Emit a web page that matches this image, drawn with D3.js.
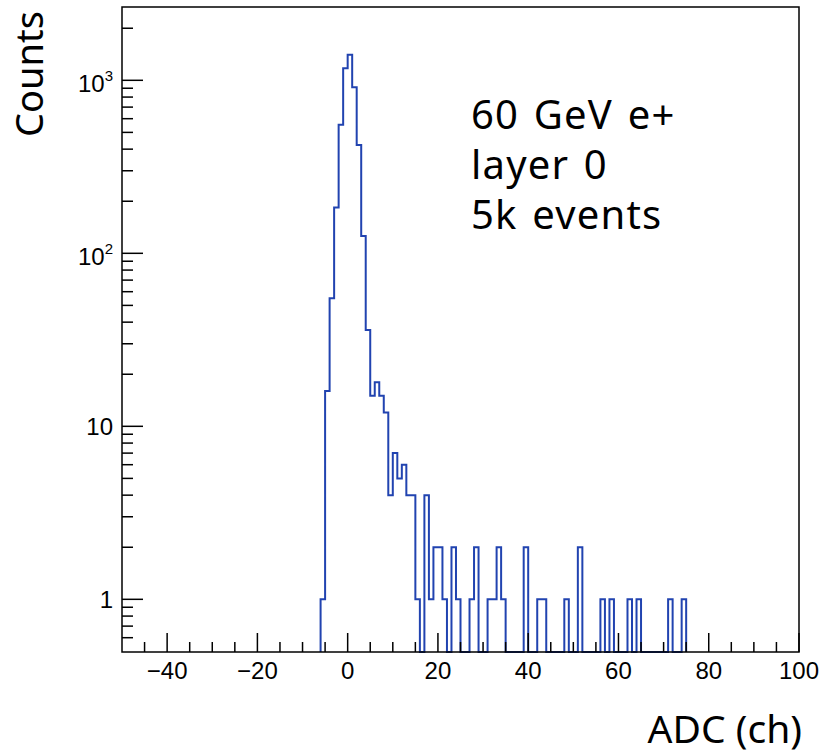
<!DOCTYPE html>
<html>
<head>
<meta charset="utf-8">
<script src="https://cdn.jsdelivr.net/npm/d3@7"></script>
<style>
  body { margin: 0; background: #fff; }
  text { fill: #000; }
</style>
</head>
<body>
<script>
const width = 825, height = 754

// histogram: 1 ADC wide bins, first bin starts at -6
const firstBin = -6
const counts = [
  1, 16, 55, 184, 554, 1173, 1406, 911, 423, 126, 36, 15, 18, 15, 12, 4, 7, 5, 6, 4, 4,   // -6 .. 14
  1, 0, 4, 1, 2, 2, 1, 0, 2, 1, 0, 0, 1, 2, 0, 0, 1, 1, 2, 1,                              // 15 .. 34
  0, 0, 0, 0, 2, 0, 0, 1, 1, 0, 0, 0, 0, 1, 0, 0, 2, 0, 0, 0,                              // 35 .. 54
  0, 1, 0, 1, 0, 0, 0, 1, 0, 1, 0, 0, 0, 0, 0, 0, 1, 0, 0, 1                               // 55 .. 74
]

const xMajor = [-40, -20, 0, 20, 40, 60, 80, 100]
const xMinor = d3.range(-45, 100, 5)
const yMajor = [1, 10, 100, 1000]
const yMinor = [0.6, 0.7, 0.8, 0.9, 2, 3, 4, 5, 6, 7, 8, 9, 20, 30, 40, 50, 60, 70, 80, 90,
  200, 300, 400, 500, 600, 700, 800, 900, 2000]
const yLabels = { 1: ["1", ""], 10: ["10", ""], 100: ["10", "2"], 1000: ["10", "3"] }
const infoLines = ["60 GeV e+", "layer 0", "5k events"]

// frame
const margin = {top: 7, right: 26, bottom: 102, left: 122}

const svg = d3.select("body").append("svg")
  .attr("width", width)
  .attr("height", height)

const x = d3.scaleLinear()
  .domain([-50, 100])
  .range([margin.left, width - margin.right])

const y = d3.scaleLog()
  .domain([0.496, 2653])
  .range([height - margin.bottom, margin.top])

const bottom = height - margin.bottom

// histogram outline
const pts = [[x(firstBin), bottom]]
counts.forEach((c, i) => {
  const lo = firstBin + i
  const yv = c > 0 ? y(c) : bottom
  pts.push([x(lo), yv], [x(lo + 1), yv])
})
pts.push([x(firstBin + counts.length), bottom])

svg.append("path")
  .attr("d", d3.line()(pts))
  .attr("fill", "none")
  .attr("stroke", "#2143b0")
  .attr("stroke-width", 2)
  .attr("stroke-linejoin", "miter")

// x ticks (pointing up into the frame)
svg.selectAll(".xminor")
  .data(xMinor.filter(v => !xMajor.includes(v)))
  .enter().append("line")
    .attr("x1", d => x(d)).attr("x2", d => x(d))
    .attr("y1", bottom).attr("y2", bottom - 10)
    .attr("stroke", "#000").attr("stroke-width", 1.5)

svg.selectAll(".xmajor")
  .data(xMajor)
  .enter().append("line")
    .attr("x1", d => x(d)).attr("x2", d => x(d))
    .attr("y1", bottom).attr("y2", bottom - 19)
    .attr("stroke", "#000").attr("stroke-width", 1.5)

svg.selectAll(".xlab")
  .data(xMajor)
  .enter().append("text")
    .attr("x", d => x(d))
    .attr("y", bottom + 27)
    .attr("text-anchor", "middle")
    .style("font-family", "'Liberation Sans', Arial, sans-serif")
    .style("font-size", "24px")
    .text(d => d < 0 ? "\u2212" + Math.abs(d) : d)

// y ticks (pointing right into the frame)
svg.selectAll(".yminor")
  .data(yMinor)
  .enter().append("line")
    .attr("x1", margin.left).attr("x2", margin.left + 11)
    .attr("y1", d => y(d)).attr("y2", d => y(d))
    .attr("stroke", "#000").attr("stroke-width", 1.5)

svg.selectAll(".ymajor")
  .data(yMajor)
  .enter().append("line")
    .attr("x1", margin.left).attr("x2", margin.left + 21)
    .attr("y1", d => y(d)).attr("y2", d => y(d))
    .attr("stroke", "#000").attr("stroke-width", 1.5)

const ylab = svg.selectAll(".ylab")
  .data(yMajor)
  .enter().append("text")
    .attr("x", margin.left - 9)
    .attr("y", d => y(d) + (yLabels[d][1] ? 12 : 9))
    .attr("text-anchor", "end")
    .style("font-family", "'Liberation Sans', Arial, sans-serif")
    .style("font-size", "24px")

ylab.append("tspan").text(d => yLabels[d][0])
ylab.append("tspan")
  .attr("dy", -11)
  .style("font-size", "15px")
  .text(d => yLabels[d][1])

// frame box
svg.append("rect")
  .attr("x", margin.left)
  .attr("y", margin.top)
  .attr("width", width - margin.right - margin.left)
  .attr("height", bottom - margin.top)
  .attr("fill", "none")
  .attr("stroke", "#000")
  .attr("stroke-width", 1.5)

// axis titles
svg.append("text")
  .attr("transform", "translate(43,74)rotate(-90)")
  .attr("text-anchor", "middle")
  .style("font-family", "'Noto Sans', sans-serif")
  .style("font-size", "38px")
  .text("Counts")

svg.append("text")
  .attr("x", 802)
  .attr("y", 743)
  .attr("text-anchor", "end")
  .style("font-family", "'Noto Sans', sans-serif")
  .style("font-size", "39px")
  .text("ADC (ch)")

// info text
svg.selectAll(".info")
  .data(infoLines)
  .enter().append("text")
    .attr("x", 471)
    .attr("y", (d, i) => 129 + i * 50)
    .style("font-family", "'Noto Sans', sans-serif")
    .style("font-size", "40px")
    .style("letter-spacing", "1.2px")
    .style("word-spacing", "3px")
    .text(d => d)
</script>
</body>
</html>
